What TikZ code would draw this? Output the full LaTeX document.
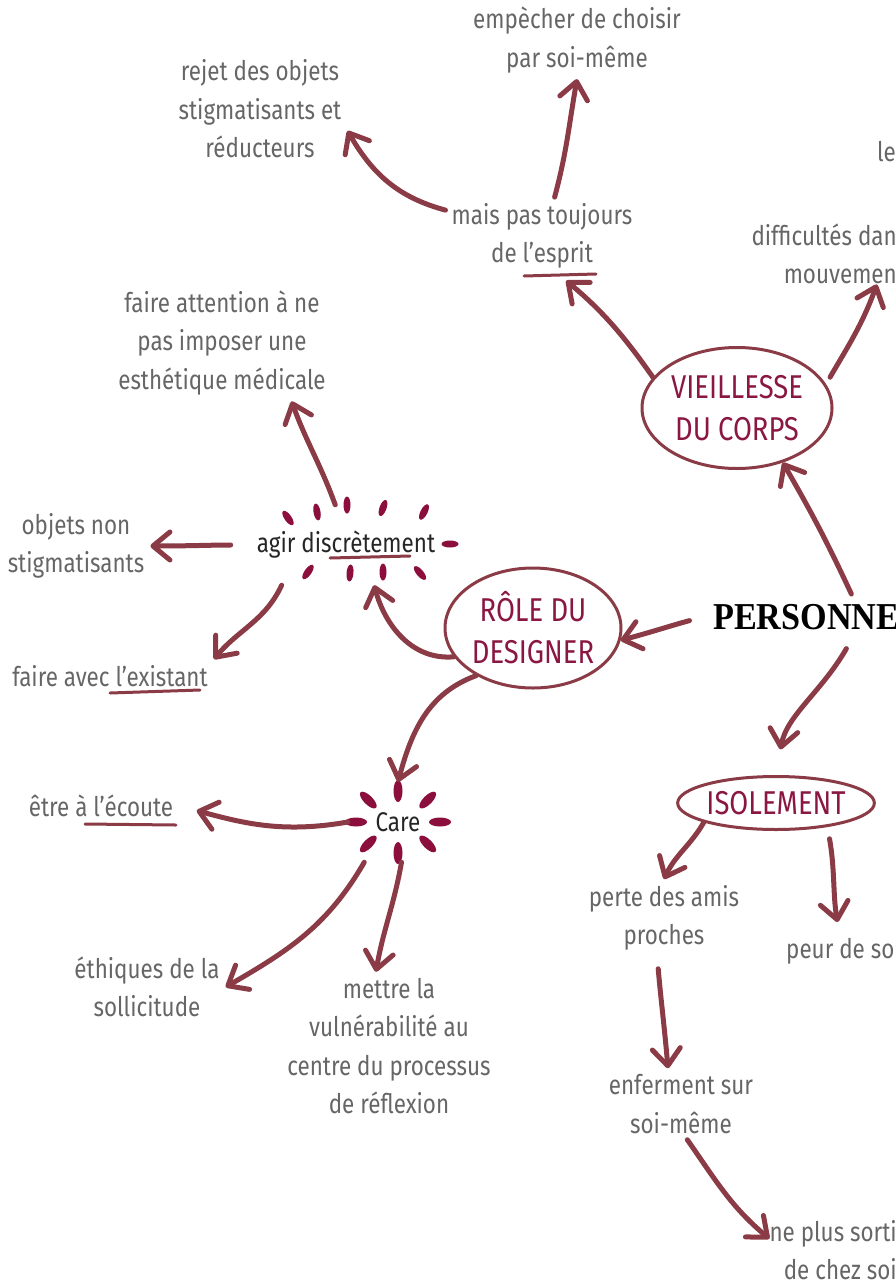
\documentclass[tikz,border=0pt]{standalone}
\usepackage{fontspec}
\setmainfont{Fira Sans}[FakeStretch=0.83]
\newfontfamily\titlefont{Liberation Serif}[FakeStretch=0.9]
\usetikzlibrary{shapes.geometric}
\usetikzlibrary{arrows.meta}
\usetikzlibrary{calc}
\definecolor{arrowred}{HTML}{8A3B45}
\definecolor{wine}{HTML}{8A1742}
\definecolor{petalred}{HTML}{8C0E3C}
\definecolor{greytext}{HTML}{666666}
\tikzset{
    brush/.style = {draw=arrowred, line width=5pt, line cap=round, -{Straight Barb[length=17pt,width=28pt,round]}},
    leaf/.style = {align=center, text=greytext, inner sep=6pt, font=\fontsize{27}{38.5}\selectfont},
    hub/.style = {align=center, text=black!85, inner sep=6pt, font=\fontsize{27}{38}\selectfont},
    bubble/.style = {ellipse, draw=arrowred, line width=3pt, text=wine, align=center, inner sep=0pt, font=\fontsize{33}{42}\selectfont},
    petal/.style = {fill=petalred},
    uline/.style = {draw=arrowred, line width=3pt, line cap=round}
}

\begin{document}
\begin{tikzpicture}[x=1pt, y=-1pt]
  \useasboundingbox (0,0) rectangle (896,1285);
  \clip (0,0) rectangle (896,1285);

  % centre and main themes
  \node[anchor=west, inner sep=10pt, font=\titlefont\bfseries\fontsize{38}{38}\selectfont] (pers) at (703,617) {PERSONNE};
  \node[bubble, minimum width=190pt, minimum height=121pt] (vieil) at (737,408) {VIEILLESSE\\DU CORPS};
  \node[bubble, minimum width=176pt, minimum height=120pt] (role) at (533,628) {RÔLE DU\\DESIGNER};
  \node[bubble, minimum width=181pt, minimum height=53pt] (isol) at (776,803) {ISOLEMENT};

  % vieillesse
  \node[leaf] (esprit) at (542,236) {mais pas toujours\\de l’esprit};
  \node[leaf] (emp) at (577,40) {empècher de choisir\\par soi-même};
  \node[leaf] (rejet) at (260,109) {rejet des objets\\stigmatisants et\\réducteurs};
  \node[leaf, anchor=west, inner sep=0pt] (le) at (877,152) {le};
  \node[leaf, anchor=east, align=right, inner sep=0pt] (diff) at (897,254) {difficultés dan\\mouvemen};

  % role du designer
  \node[hub, minimum height=80pt] (agir) at (346,545) {agir discrètement};
  \node[leaf] (attn) at (222,343) {faire attention à ne\\pas imposer une\\esthétique médicale};
  \node[leaf] (objets) at (76,546) {objets non\\stigmatisants};
  \node[leaf] (avec) at (110,676) {faire avec l’existant};
  \node[hub, minimum width=100pt, minimum height=80pt] (care) at (398,822) {Care};
  \node[leaf] (ecoute) at (101,806) {être à l’écoute};
  \node[leaf] (ethiq) at (147,987) {éthiques de la\\sollicitude};
  \node[leaf] (vulner) at (389,1046) {mettre la\\vulnérabilité au\\centre du processus\\de réflexion};

  % isolement
  \node[leaf] (perte) at (664,918) {perte des amis\\proches};
  \node[leaf, anchor=west, inner sep=0pt] (peur) at (786,951) {peur de so};
  \node[leaf] (enferm) at (681,1104) {enferment sur\\soi-même};
  \node[leaf, anchor=east, align=right, inner sep=0pt] (sortir) at (897,1250) {ne plus sorti\\de chez soi};

  % bursts
  \foreach \a in {0,45,...,315}
    \fill[petal, shift={($(care)+(\a:42 and 31)$)}, rotate=-\a] (0,0) ellipse (11 and 4.5);
  \foreach \dx/\dy/\r in {-58/-27/125, -29/-33/100, 1/-40/90, 37/-37/70, 78/-33/63, 104/-1/0, -38/27/235, 4/28/265, 37/27/270, 74/28/310}
    \fill[petal, shift={($(agir)+(\dx,\dy)$)}, rotate=\r] (0,0) ellipse (8.5 and 3.5);

  % underlines
  \draw[uline] (524,276) -- (596,274);
  \draw[uline] (330,558) -- (410,556);
  \draw[uline] (110,693) -- (200,690);
  \draw[uline] (85,824) -- (176,825);

  % arrows
  \draw[brush] (pers.27) to[out=115, in=-60] (vieil.-50);
  \draw[brush, shorten <=14pt] (pers.west) to[out=195, in=15] (role.-8);
  \draw[brush, shorten <=10pt, shorten >=26pt] (pers.-27) to[out=-120, in=80] (isol.north);

  \draw[brush, shorten >=9pt] (vieil.160) to[out=125, in=-40] (esprit.-66);
  \draw[brush] (esprit.72) to[out=75, in=-100] (emp.south);
  \draw[brush] (esprit.165) to[out=165, in=-60] (rejet.-14);
  \draw[brush, shorten <=8pt] (vieil.15) to[out=60, in=-110] (diff.-30);

  \draw[brush] (role.200) to[out=185, in=-75] (agir.-55);
  \draw[brush] (role.220) to[out=200, in=75] (care.north);
  \draw[brush] (agir.105) to[out=110, in=-70] (attn.-40);
  \draw[brush, shorten <=20pt] (agir.west) to[out=180, in=0] (objets.east);
  \draw[brush] (agir.-148) to[out=-115, in=50] (avec.north east);
  \draw[brush, shorten >=18pt] (care.west) to[out=190, in=-15] (ecoute.east);
  \draw[brush] (care.-130) to[out=-120, in=30] (ethiq.east);
  \draw[brush] (care.-85) to[out=-100, in=80] (vulner.100);

  \draw[brush] (isol.195) to[out=-120, in=65] (perte.north);
  \draw[brush, shorten <=12pt, shorten >=16pt] (isol.-25) to[out=-80, in=100] (peur.north);
  \draw[brush, shorten <=12pt] (perte.-100) to[out=-85, in=95] (enferm.110);
  \draw[brush] (enferm.-80) to[out=-55, in=140] (sortir.170);
\end{tikzpicture}
\end{document}
